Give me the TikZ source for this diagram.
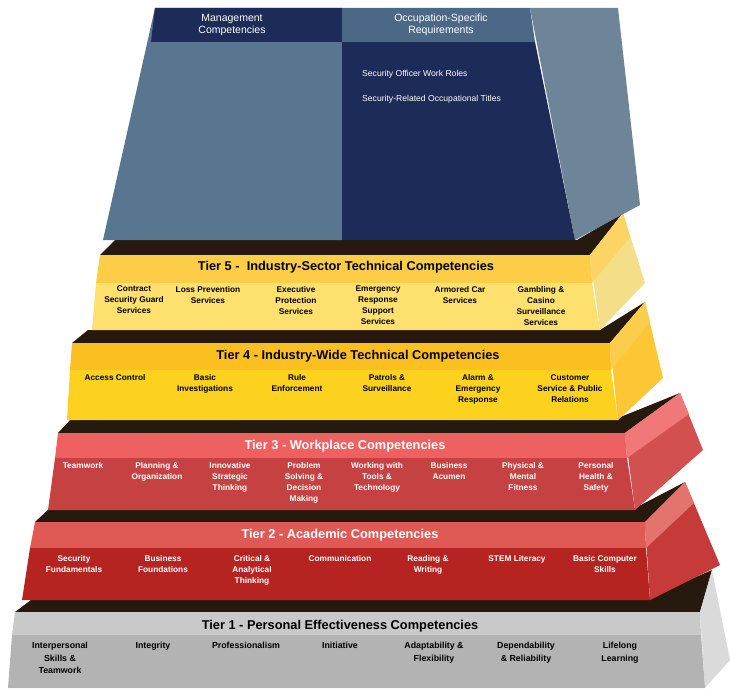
\documentclass[tikz,border=0pt]{standalone}
\usepackage{fontspec}
\setmainfont{Liberation Sans}
\begin{document}
\begin{tikzpicture}[x=1pt,y=-1pt,
  it/.style={font=\fontsize{8.3}{11}\selectfont\bfseries,align=center,anchor=north,inner sep=0},
  itw/.style={it,text=white},
  ttl/.style={font=\fontsize{12.8}{14}\selectfont\bfseries,inner sep=0},
  ttlw/.style={ttl,text=white},
  dk/.style={fill=black!80!brown}]
\useasboundingbox (0,0) rectangle (730,690);
\definecolor{g1}{HTML}{C9C9C9}\definecolor{g2}{HTML}{B3B3B3}\definecolor{g3}{HTML}{DADADA}
\definecolor{r2a}{HTML}{DF5A55}\definecolor{r2b}{HTML}{B52420}\definecolor{r2c}{HTML}{C63A3A}
\definecolor{r3a}{HTML}{EF6060}\definecolor{r3b}{HTML}{C64242}\definecolor{r3c}{HTML}{D35050}
\definecolor{y4a}{HTML}{FBBF20}\definecolor{y4b}{HTML}{FDD21E}\definecolor{y4c}{HTML}{FCC634}
\definecolor{y5a}{HTML}{FDCD48}\definecolor{y5b}{HTML}{FEE06E}\definecolor{y5c}{HTML}{F5DE88}
\definecolor{bnav}{HTML}{1C2B57}\definecolor{bgr}{HTML}{58768F}\definecolor{bsd}{HTML}{6E8599}\definecolor{bhd}{HTML}{4B6987}
% Tier 1
\fill[dk] (15,612) -- (35,597) -- (650,597) -- (712,570) -- (700,612) -- cycle;
\fill[g3] (700,612) -- (712,570) -- (730,660) -- (705,688) -- cycle;
\fill[g1] (15,612) -- (700,612) -- (701,635) -- (12,635) -- cycle;
\fill[g2] (12,635) -- (701,635) -- (705,688) -- (8,688) -- cycle;
% Tier 2
\fill[dk] (35,522) -- (50,508) -- (635,508) -- (685,482) -- (645,522) -- cycle;
\fill[r2c] (645,522) -- (685,482) -- (720,565) -- (650,600) -- cycle;
\fill[r2a!85!white] (645,522) -- (685,482) -- (694,503) -- (646,548) -- cycle;
\fill[r2a] (35,522) -- (645,522) -- (646,548) -- (30,548) -- cycle;
\fill[r2b] (30,548) -- (646,548) -- (650,600) -- (22,600) -- cycle;
% Tier 3
\fill[dk] (58,433) -- (72,418) -- (618,418) -- (680,393) -- (625,433) -- cycle;
\fill[r3c] (625,433) -- (680,393) -- (703,450) -- (635,510) -- cycle;
\fill[r3a!85!white] (625,433) -- (680,393) -- (689,414) -- (627,458) -- cycle;
\fill[r3a] (58,433) -- (625,433) -- (627,458) -- (55,458) -- cycle;
\fill[r3b] (55,458) -- (627,458) -- (635,510) -- (48,510) -- cycle;
% Tier 4
\fill[dk] (72,343) -- (88,330) -- (600,330) -- (645,302) -- (610,343) -- cycle;
\fill[y4c] (610,343) -- (645,302) -- (663,378) -- (618,420) -- cycle;
\fill[y4a!80!white] (610,343) -- (645,302) -- (650,322) -- (611,370) -- cycle;
\fill[y4a] (72,343) -- (610,343) -- (611,370) -- (70,370) -- cycle;
\fill[y4b] (70,370) -- (611,370) -- (618,420) -- (67,420) -- cycle;
% Tier 5
\fill[dk] (100,255) -- (115,240) -- (577,240) -- (623,213) -- (590,255) -- cycle;
\fill[y5c] (590,255) -- (623,213) -- (645,283) -- (600,330) -- cycle;
\fill[y5a!85!white] (590,255) -- (623,213) -- (630,237) -- (592,283) -- cycle;
\fill[y5a] (100,255) -- (590,255) -- (592,283) -- (96,283) -- cycle;
\fill[y5b] (96,283) -- (592,283) -- (600,330) -- (92,330) -- cycle;
% Top block
\fill[bsd] (530,8) -- (618,8) -- (640,205) -- (575,240) -- cycle;
\fill[bgr] (155,8) -- (342,8) -- (342,240) -- (103,240) -- cycle;
\fill[bnav] (342,42) -- (535,42) -- (575,240) -- (342,240) -- cycle;
\fill[bnav] (155,8) -- (342,8) -- (342,42) -- (151,42) -- cycle;
\fill[bhd] (342,8) -- (530,8) -- (535,42) -- (342,42) -- cycle;
\node[font=\fontsize{10.5}{12}\selectfont,text=white,align=center] (mc) at (232,25) {Management\\Competencies};
\node[font=\fontsize{10.5}{12}\selectfont,text=white,align=center] (os) at (441,25) {Occupation-Specific\\Requirements};
\node[font=\fontsize{8.6}{10}\selectfont,text=white,anchor=west,inner sep=0] (w1) at (362,74) {Security Officer Work Roles};
\node[font=\fontsize{8.6}{10}\selectfont,text=white,anchor=west,inner sep=0] (w2) at (362,99) {Security-Related Occupational Titles};
% Titles
\node[ttl] (t5) at (346,267) {Tier 5 -\ \ Industry-Sector Technical Competencies};
\node[ttl] (t4) at (358,356) {Tier 4 - Industry-Wide Technical Competencies};
\node[ttlw] (t3) at (345,446) {Tier 3 - Workplace Competencies};
\node[ttlw] (t2) at (340,535) {Tier 2 - Academic Competencies};
\node[ttl] (t1) at (340,626) {Tier 1 - Personal Effectiveness Competencies};
% Tier 5 items
\node[it] (a1) at (134,286) {Contract\\Security Guard\\Services};
\node[it] (a2) at (208,286) {Loss Prevention\\Services};
\node[it] (a3) at (296,286) {Executive\\Protection\\Services};
\node[it] (a4) at (378,286) {Emergency\\Response\\Support\\Services};
\node[it] (a5) at (460,286) {Armored Car\\Services};
\node[it] (a6) at (541,286) {Gambling \&\\Casino\\Surveillance\\Services};
% Tier 4 items
\node[it] (b1) at (115,374) {Access Control};
\node[it] (b2) at (205,374) {Basic\\Investigations};
\node[it] (b3) at (297,374) {Rule\\Enforcement};
\node[it] (b4) at (387,374) {Patrols \&\\Surveillance};
\node[it] (b5) at (478,374) {Alarm \&\\Emergency\\Response};
\node[it] (b6) at (570,374) {Customer\\Service \& Public\\Relations};
% Tier 3 items
\node[itw] (c1) at (83,462) {Teamwork};
\node[itw] (c2) at (157,462) {Planning \&\\Organization};
\node[itw] (c3) at (230,462) {Innovative\\Strategic\\Thinking};
\node[itw] (c4) at (304,462) {Problem\\Solving \&\\Decision\\Making};
\node[itw] (c5) at (377,462) {Working with\\Tools \&\\Technology};
\node[itw] (c6) at (449,462) {Business\\Acumen};
\node[itw] (c7) at (523,462) {Physical \&\\Mental\\Fitness};
\node[itw] (c8) at (596,462) {Personal\\Health \&\\Safety};
% Tier 2 items
\node[itw] (d1) at (74,555) {Security\\Fundamentals};
\node[itw] (d2) at (163,555) {Business\\Foundations};
\node[itw] (d3) at (252,555) {Critical \&\\Analytical\\Thinking};
\node[itw] (d4) at (340,555) {Communication};
\node[itw] (d5) at (428,555) {Reading \&\\Writing};
\node[itw] (d6) at (517,555) {STEM Literacy};
\node[itw] (d7) at (605,555) {Basic Computer\\Skills};
% Tier 1 items
\node[it,font=\fontsize{8.8}{12.5}\selectfont\bfseries] (e1) at (60,642) {Interpersonal\\Skills \&\\Teamwork};
\node[it,font=\fontsize{8.8}{12.5}\selectfont\bfseries] (e2) at (153,642) {Integrity};
\node[it,font=\fontsize{8.8}{12.5}\selectfont\bfseries] (e3) at (246,642) {Professionalism};
\node[it,font=\fontsize{8.8}{12.5}\selectfont\bfseries] (e4) at (340,642) {Initiative};
\node[it,font=\fontsize{8.8}{12.5}\selectfont\bfseries] (e5) at (434,642) {Adaptability \&\\Flexibility};
\node[it,font=\fontsize{8.8}{12.5}\selectfont\bfseries] (e6) at (526,642) {Dependability\\\& Reliability};
\node[it,font=\fontsize{8.8}{12.5}\selectfont\bfseries] (e7) at (620,642) {Lifelong\\Learning};
\end{tikzpicture}
\end{document}
